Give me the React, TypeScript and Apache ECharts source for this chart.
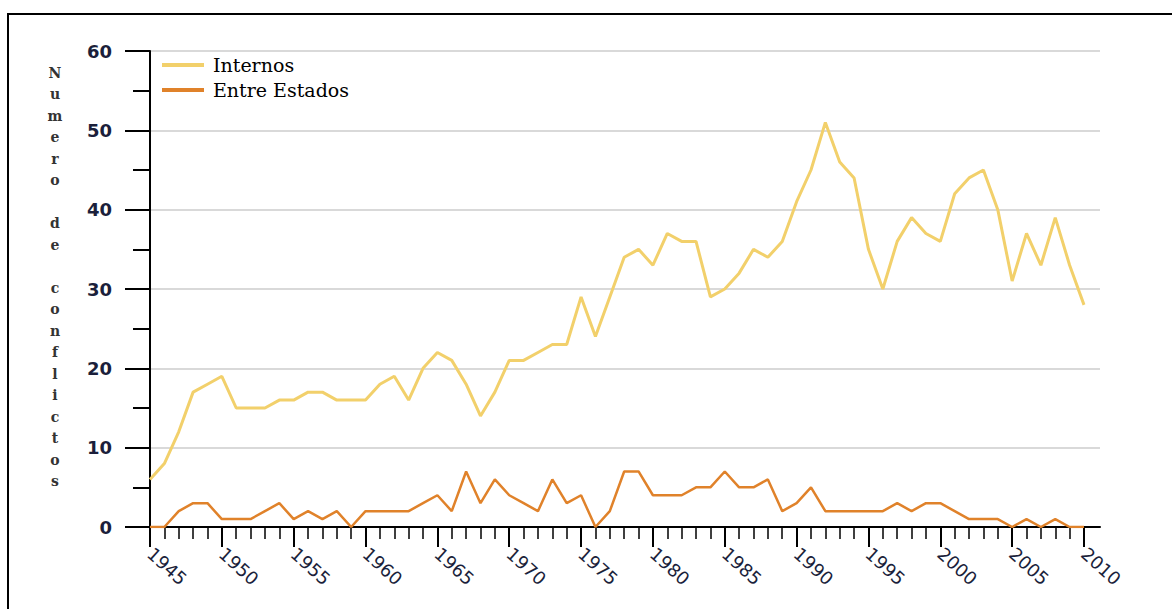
import React, { useEffect, useRef } from "react";
import * as echarts from "echarts";

const years: number[] = [];
for (let y = 1945; y <= 2010; y++) years.push(y);

const labelYears = [1945, 1950, 1955, 1960, 1965, 1970, 1975, 1980, 1985, 1990, 1995, 2000, 2005, 2010];

const internos = [
  6, 8, 12, 17, 18, 19, 15, 15, 15, 16,
  16, 17, 17, 16, 16, 16, 18, 19, 16, 20,
  22, 21, 18, 14, 17, 21, 21, 22, 23, 23,
  29, 24, 29, 34, 35, 33, 37, 36, 36, 29,
  30, 32, 35, 34, 36, 41, 45, 51, 46, 44,
  35, 30, 36, 39, 37, 36, 42, 44, 45, 40,
  31, 37, 33, 39, 33, 28,
];

const entreEstados = [
  0, 0, 2, 3, 3, 1, 1, 1, 2, 3,
  1, 2, 1, 2, 0, 2, 2, 2, 2, 3,
  4, 2, 7, 3, 6, 4, 3, 2, 6, 3,
  4, 0, 2, 7, 7, 4, 4, 4, 5, 5,
  7, 5, 5, 6, 2, 3, 5, 2, 2, 2,
  2, 2, 3, 2, 3, 3, 2, 1, 1, 1,
  0, 1, 0, 1, 0, 0,
];

const yAxisTitle = "Numero de conflictos";

export default function App() {
  const ref = useRef<HTMLDivElement>(null);

  useEffect(() => {
    if (!ref.current) return;
    const chart = echarts.init(ref.current, undefined, { renderer: "svg" });
    const xMax = 1945 + 950 / (934 / 65);
    const labelColor = "#1b1f3b";
    chart.setOption({
      animation: false,
      backgroundColor: "#ffffff",
      grid: { left: 150, right: 72, top: 51, bottom: 82, containLabel: false },
      legend: {
        data: ["Internos", "Entre Estados"],
        orient: "vertical",
        left: 162,
        top: 49,
        padding: 0,
        icon: "rect",
        itemWidth: 42,
        itemHeight: 4,
        itemGap: -7,
        textStyle: {
          fontFamily: "DejaVu Serif",
          fontSize: 19,
          lineHeight: 20,
          color: "#000",
          padding: [12, 0, 0, 4],
        },
      },
      xAxis: [
        {
          type: "value",
          min: 1945,
          max: xMax,
          interval: 5,
          position: "bottom",
          axisLine: { show: true, onZero: false, lineStyle: { color: "#000", width: 2 } },
          axisTick: {
            show: true,
            length: 20,
            customValues: labelYears,
            lineStyle: { color: "#000", width: 2 },
          },
          axisLabel: {
            customValues: labelYears,
            rotate: -42,
            margin: 24,
            fontFamily: "DejaVu Sans",
            fontSize: 18,
            color: labelColor,
            formatter: (v: number) => String(v),
          },
          splitLine: { show: false },
        },
        {
          type: "value",
          min: 1945,
          max: xMax,
          position: "bottom",
          offset: 0,
          axisLine: { show: false, onZero: false },
          axisTick: {
            show: true,
            length: 12,
            customValues: years,
            lineStyle: { color: "#000", width: 1.5 },
          },
          axisLabel: { show: false },
          splitLine: { show: false },
        },
      ],
      yAxis: {
        type: "value",
        min: 0,
        max: 60,
        interval: 10,
        axisLine: { show: true, lineStyle: { color: "#000", width: 2 } },
        axisTick: { show: true, length: 25, lineStyle: { color: "#000", width: 2 } },
        minorTick: { show: true, splitNumber: 2, length: 17, lineStyle: { color: "#000", width: 2 } },
        axisLabel: {
          margin: 38,
          fontFamily: "DejaVu Sans",
          fontWeight: "bold",
          fontSize: 18,
          color: labelColor,
        },
        splitLine: { show: true, lineStyle: { color: "#d9d9d9", width: 2 } },
      },
      graphic: [
        {
          type: "rect",
          silent: true,
          shape: { x: 8, y: 14, width: 1200, height: 700 },
          style: { fill: "none", stroke: "#000", lineWidth: 2 },
        },
        {
          type: "text",
          silent: true,
          style: {
            text: yAxisTitle.split("").join("\n"),
            x: 55,
            y: 62,
            align: "center",
            verticalAlign: "top",
            fontFamily: "DejaVu Serif",
            fontWeight: "bold",
            fontSize: 14,
            lineHeight: 21.5,
            fill: "#333",
          },
        },
      ],
      series: [
        {
          name: "Internos",
          type: "line",
          xAxisIndex: 0,
          showSymbol: false,
          color: "#f2d06b",
          lineStyle: { color: "#f2d06b", width: 3 },
          data: years.map((y, i) => [y, internos[i]]),
        },
        {
          name: "Entre Estados",
          type: "line",
          xAxisIndex: 0,
          showSymbol: false,
          color: "#e0822a",
          lineStyle: { color: "#e0822a", width: 2.5 },
          data: years.map((y, i) => [y, entreEstados[i]]),
        },
      ],
    });
    return () => chart.dispose();
  }, []);

  return (
    <div
      ref={ref}
      style={{ position: "absolute", left: 0, top: 0, width: 1172, height: 609, background: "#fff" }}
    />
  );
}
